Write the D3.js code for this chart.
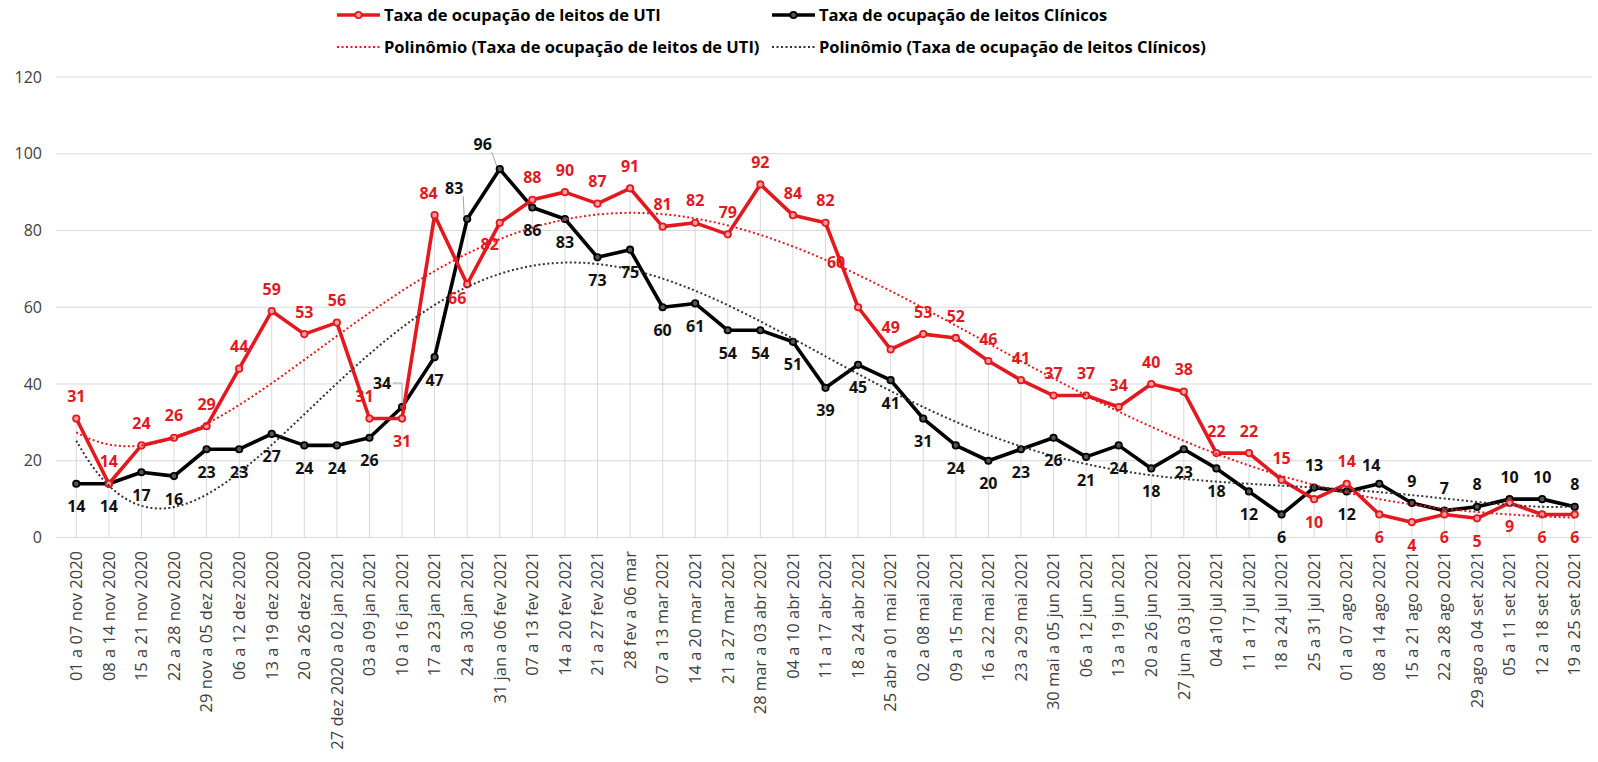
<!DOCTYPE html>
<html>
<head>
<meta charset="utf-8">
<script src="https://cdn.jsdelivr.net/npm/d3@7"></script>
<style>
  body { margin: 0; background: #fff; }
  text { font-family: "Open Sans", sans-serif; }
</style>
</head>
<body>
<svg width="1598" height="762"></svg>
<script>
const weeks = [
  '01 a 07 nov 2020', '08 a 14 nov 2020', '15 a 21 nov 2020', '22 a 28 nov 2020',
  '29 nov a 05 dez 2020', '06 a 12 dez 2020', '13 a 19 dez 2020', '20 a 26 dez 2020',
  '27 dez 2020 a 02 jan 2021', '03 a 09 jan 2021', '10 a 16 jan 2021', '17 a 23 jan 2021',
  '24 a 30 jan 2021', '31 jan a 06 fev 2021', '07 a 13 fev 2021', '14 a 20 fev 2021',
  '21 a 27 fev 2021', '28 fev a 06 mar', '07 a 13 mar 2021', '14 a 20 mar 2021',
  '21 a 27 mar 2021', '28 mar a 03 abr 2021', '04 a 10 abr 2021', '11 a 17 abr 2021',
  '18 a 24 abr 2021', '25 abr a 01 mai 2021', '02 a 08 mai 2021', '09 a 15 mai 2021',
  '16 a 22 mai 2021', '23 a 29 mai 2021', '30 mai a 05 jun 2021', '06 a 12 jun 2021',
  '13 a 19 jun 2021', '20 a 26 jun 2021', '27 jun a 03 jul 2021', '04 a10 jul 2021',
  '11 a 17 jul 2021', '18 a 24 jul 2021', '25 a 31 jul 2021', '01 a 07 ago 2021',
  '08 a 14 ago 2021', '15 a 21 ago 2021', '22 a 28 ago 2021', '29 ago a 04 set 2021',
  '05 a 11 set 2021', '12 a 18 set 2021', '19 a 25 set 2021'
]
const utiRate = [31, 14, 24, 26, 29, 44, 59, 53, 56, 31, 31, 84, 66, 82, 88, 90, 87, 91, 81, 82,
  79, 92, 84, 82, 60, 49, 53, 52, 46, 41, 37, 37, 34, 40, 38, 22, 22, 15, 10, 14, 6, 4, 6, 5, 9, 6, 6]
const clinicRate = [14, 14, 17, 16, 23, 23, 27, 24, 24, 26, 34, 47, 83, 96, 86, 83, 73, 75, 60, 61,
  54, 54, 51, 39, 45, 41, 31, 24, 20, 23, 26, 21, 24, 18, 23, 18, 12, 6, 13, 12, 14, 9, 7, 8, 10, 10, 8]
const yTicks = [0, 20, 40, 60, 80, 100, 120]

// label side per point: a = above, b = below
const utiSide = 'aaaaaaaaaababbaaaaaaaaaaaaaaaaaaaaaaaababbbbbbb'
const clinicSide = 'bbbbbbbbbbabaabbbbbbbbbbbbbbbbbbbbbbbbabaaaaaaa'
// hand-moved labels (like in the spreadsheet)
const utiMoved = { 9: [-5, -22], 11: [-6, -22], 12: [-10, 14], 13: [-10, 22], 24: [-22, -45] }
const clinicMoved = { 10: [-20, -24], 12: [-13, -31], 13: [-17, -25], 40: [-8, -18] }

const red = '#e3191f'
const black = '#000'

const svg = d3.select('svg')

const x = d3.scaleBand().domain(weeks).range([60, 1591])
const cx = d => x(d) + x.bandwidth() / 2
const xi = d3.scaleLinear().domain([0, weeks.length - 1]).range([cx(weeks[0]), cx(weeks[weeks.length - 1])])
const y = d3.scaleLinear().domain([0, 120]).range([537.5, 77])

// polynomial trendline, order 6, least squares
function polyFit(ys, deg) {
  const c = (ys.length - 1) / 2
  const m = deg + 1
  const A = d3.range(m).map(() => new Array(m + 1).fill(0))
  ys.forEach((v, i) => {
    const t = (i - c) / c
    for (let r = 0; r < m; r++) {
      for (let k = 0; k < m; k++) A[r][k] += t ** (r + k)
      A[r][m] += v * t ** r
    }
  })
  for (let col = 0; col < m; col++) {
    let piv = col
    for (let r = col + 1; r < m; r++) if (Math.abs(A[r][col]) > Math.abs(A[piv][col])) piv = r;
    [A[col], A[piv]] = [A[piv], A[col]]
    for (let r = 0; r < m; r++) {
      if (r === col) continue
      const f = A[r][col] / A[col][col]
      for (let k = col; k <= m; k++) A[r][k] -= f * A[col][k]
    }
  }
  const coef = A.map((row, i) => row[m] / row[i])
  return i => {
    const t = (i - c) / c
    return coef.reduce((s, a, k) => s + a * t ** k, 0)
  }
}

// gridlines
svg.append('g')
  .selectAll('line')
  .data(yTicks)
  .join('line')
  .attr('x1', 56).attr('x2', 1592)
  .attr('y1', d => y(d)).attr('y2', d => y(d))
  .attr('stroke', '#d9d9d9')
  .attr('stroke-width', 1.2)

// y tick labels
svg.append('g')
  .selectAll('text')
  .data(yTicks)
  .join('text')
  .attr('x', 42)
  .attr('y', d => y(d))
  .attr('dy', '0.35em')
  .attr('text-anchor', 'end')
  .attr('font-size', 16)
  .attr('fill', '#404040')
  .text(d => d)

// drop lines
svg.append('g')
  .selectAll('line')
  .data(weeks)
  .join('line')
  .attr('x1', d => cx(d)).attr('x2', d => cx(d))
  .attr('y1', (d, i) => y(Math.max(utiRate[i], clinicRate[i])))
  .attr('y2', y(0))
  .attr('stroke', '#d9d9d9')
  .attr('stroke-width', 1)

// x labels
svg.append('g')
  .selectAll('text')
  .data(weeks)
  .join('text')
  .attr('transform', d => `translate(${cx(d)},551) rotate(-90)`)
  .attr('dy', '0.35em')
  .attr('text-anchor', 'end')
  .attr('font-size', 16.5)
  .attr('fill', '#404040')
  .text(d => d)

const line = d3.line().x((d, i) => cx(weeks[i])).y(d => y(d))
const trendLine = d3.line().x(d => xi(d[0])).y(d => y(d[1])).curve(d3.curveBasis)

function drawSeries(values, color) {
  svg.append('path')
    .datum(values)
    .attr('d', line)
    .attr('fill', 'none')
    .attr('stroke', color)
    .attr('stroke-width', 3.6)
    .attr('stroke-linejoin', 'round')
  svg.append('g')
    .selectAll('circle')
    .data(values)
    .join('circle')
    .attr('cx', (d, i) => cx(weeks[i]))
    .attr('cy', d => y(d))
    .attr('r', 3.2)
    .attr('fill', color === red ? '#f4a0a0' : '#555')
    .attr('stroke', color)
    .attr('stroke-width', 1.8)
}

function drawTrend(values, color) {
  const f = polyFit(values, 6)
  const pts = d3.range(0, values.length - 1 + 0.001, 0.25).map(i => [i, f(i)])
  svg.append('path')
    .datum(pts)
    .attr('d', trendLine)
    .attr('fill', 'none')
    .attr('stroke', color)
    .attr('stroke-width', 2)
    .attr('stroke-dasharray', '2,2.5')
}

function drawLabels(values, color, side, moved) {
  values.forEach((v, i) => {
    const px = cx(weeks[i])
    const py = y(v)
    let dx = 0
    let dy = side[i] === 'a' ? -22 : 23
    if (moved[i]) [dx, dy] = moved[i]
    const lx = px + dx
    const ly = py + dy
    if (moved[i] && color !== red && i !== 40) {
      const pts = i === 10
        ? [[lx + 11, ly], [px, ly], [px, py - 4]]
        : [[lx + 9, ly + 8], [px - 3, py - 3]]
      svg.append('path')
        .attr('d', d3.line()(pts))
        .attr('fill', 'none')
        .attr('stroke', '#a6a6a6')
        .attr('stroke-width', 1)
    }
    svg.append('text')
      .attr('x', lx)
      .attr('y', ly)
      .attr('dy', '0.35em')
      .attr('text-anchor', 'middle')
      .attr('font-size', 16)
      .attr('font-weight', 700)
      .attr('fill', color)
      .text(d3.format('.0f')(v))
  })
}

drawSeries(clinicRate, black)
drawSeries(utiRate, red)
drawTrend(utiRate, red)
drawTrend(clinicRate, '#333')
drawLabels(clinicRate, '#111', clinicSide, clinicMoved)
drawLabels(utiRate, red, utiSide, utiMoved)

// legend
const legendItems = [
  { label: 'Taxa de ocupação de leitos de UTI', color: red, x: 337, y: 15, dotted: false },
  { label: 'Taxa de ocupação de leitos Clínicos', color: black, x: 772, y: 15, dotted: false },
  { label: 'Polinômio (Taxa de ocupação de leitos de UTI)', color: red, x: 337, y: 47, dotted: true },
  { label: 'Polinômio (Taxa de ocupação de leitos Clínicos)', color: '#333', x: 772, y: 47, dotted: true }
]
const legend = svg.append('g')
legendItems.forEach(item => {
  const g = legend.append('g').attr('transform', `translate(${item.x},${item.y})`)
  g.append('line')
    .attr('x1', 0).attr('x2', 43)
    .attr('stroke', item.color)
    .attr('stroke-width', item.dotted ? 2 : 3.6)
    .attr('stroke-dasharray', item.dotted ? '2,2.5' : null)
  if (!item.dotted) {
    g.append('circle')
      .attr('cx', 21.5).attr('r', 3.2)
      .attr('fill', item.color === red ? '#f4a0a0' : '#555')
      .attr('stroke', item.color)
      .attr('stroke-width', 1.8)
  }
  g.append('text')
    .attr('x', 47)
    .attr('dy', '0.35em')
    .attr('font-size', 16.5)
    .attr('font-weight', 700)
    .attr('fill', '#000')
    .text(item.label)
})
</script>
</body>
</html>
